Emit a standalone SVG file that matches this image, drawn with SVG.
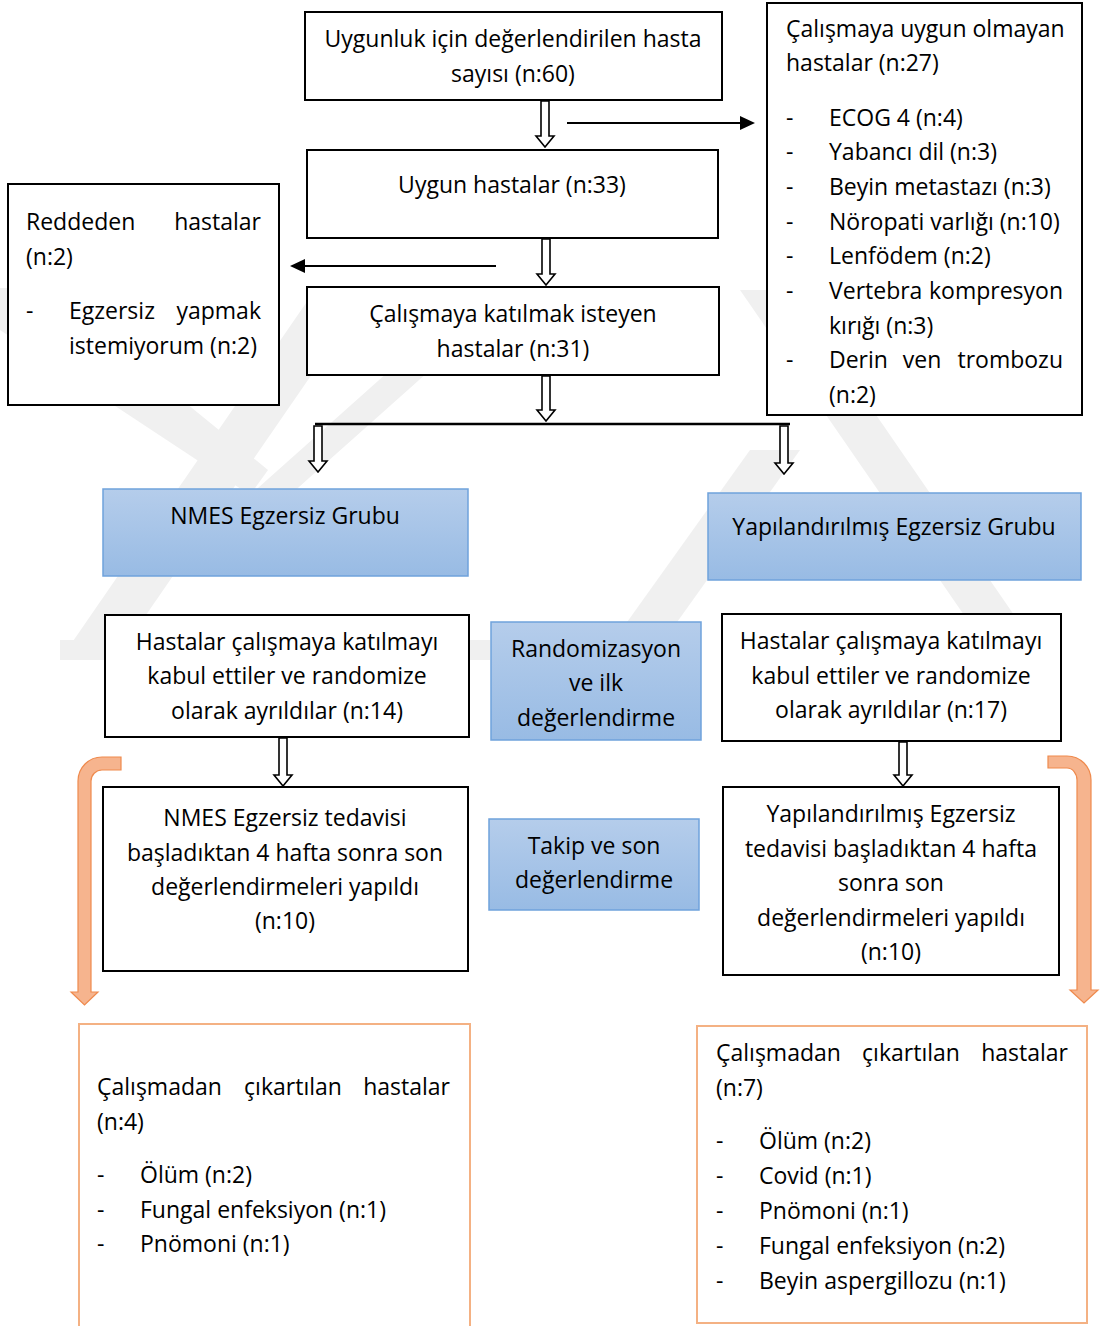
<svg xmlns="http://www.w3.org/2000/svg" width="1100" height="1326" viewBox="0 0 1100 1326">
<defs>
<linearGradient id="bg" x1="0" y1="0" x2="0" y2="1">
<stop offset="0" stop-color="#b5cdeb"/>
<stop offset="1" stop-color="#98bbe4"/>
</linearGradient>
<style>
.box{fill:#fff;stroke:#000;stroke-width:2}
.blue{fill:url(#bg);stroke:#6fa2dc;stroke-width:1.5}
.obox{fill:none;stroke:#f4b183;stroke-width:2}
.oarr{fill:#f6b48e;stroke:#ef8a4d;stroke-width:1.2}
.harr{fill:#fff;stroke:#000;stroke-width:1.6}
.ln{stroke:#000;stroke-width:2.5;fill:none}
.wm{fill:#f0f0f0}
text{font-family:"Open Sans","Noto Sans",sans-serif;font-size:23px;fill:#000}
.c{text-anchor:middle}
.e{text-anchor:end}
</style>
</defs>
<rect width="1100" height="1326" fill="#fff"/>
<g id="watermark">
<polygon class="wm" points="60,660 115,660 370,290 315,290"/>
<polygon class="wm" points="0,288 45,288 268,470 250,495 0,330"/>
<polygon class="wm" points="250,495 290,495 520,290 480,290"/>
<polygon class="wm" points="60,640 490,640 490,660 60,660"/>
<polygon class="wm" points="740,290 790,290 1045,660 995,660"/>
<polygon class="wm" points="600,660 650,660 800,450 750,450"/>
</g>
<g id="connectors">
<path class="harr" d="M541,101 L541,136 L536,136 L545,147 L554,136 L549,136 L549,101 Z"/>
<path class="harr" d="M542,239 L542,274 L537,274 L546,285 L555,274 L550,274 L550,239 Z"/>
<path class="harr" d="M542,376 L542,410 L537,410 L546,421 L555,410 L550,410 L550,376 Z"/>
<line class="ln" x1="315" y1="424" x2="790" y2="424"/>
<path class="harr" d="M314,426 L314,461 L309,461 L318,472 L327,461 L322,461 L322,426 Z"/>
<path class="harr" d="M780,426 L780,463 L775,463 L784,474 L793,463 L788,463 L788,426 Z"/>
<path class="harr" d="M279,738 L279,775 L274,775 L283,786 L292,775 L287,775 L287,738 Z"/>
<path class="harr" d="M899,742 L899,775 L894,775 L903,786 L912,775 L907,775 L907,742 Z"/>
<line x1="567" y1="123" x2="742" y2="123" stroke="#000" stroke-width="2"/>
<polygon points="740,116 755,123 740,130" fill="#000"/>
<line x1="496" y1="266" x2="302" y2="266" stroke="#000" stroke-width="2"/>
<polygon points="305,259 290,266 305,273" fill="#000"/>
<path class="oarr" d="M121,757 L102,757 A24,24 0 0 0 78,781 L78,992 L71,992 L84.5,1005 L98,992 L91,992 L91,781 A11,11 0 0 1 102,770 L121,770 Z"/>
<path class="oarr" d="M1048,756 L1067,756 A24,24 0 0 1 1091,780 L1091,990 L1098,990 L1084,1003 L1070,990 L1077,990 L1077,780 A10,12 0 0 0 1067,768 L1048,768 Z"/>
</g>
<g id="n-degerlendirilen">
<rect class="box" x="305" y="12" width="417" height="88"/>
<text class="c" x="513" y="47">Uygunluk için değerlendirilen hasta</text>
<text class="c" x="513" y="82">sayısı (n:60)</text>
</g>
<g id="n-uygun-olmayan">
<rect class="box" x="767" y="3" width="315" height="412"/>
<text x="786" y="37">Çalışmaya uygun olmayan</text>
<text x="786" y="71">hastalar (n:27)</text>
<text x="786" y="126">-</text><text x="829" y="126">ECOG 4 (n:4)</text>
<text x="786" y="160">-</text><text x="829" y="160">Yabancı dil (n:3)</text>
<text x="786" y="195">-</text><text x="829" y="195">Beyin metastazı (n:3)</text>
<text x="786" y="230">-</text><text x="829" y="230">Nöropati varlığı (n:10)</text>
<text x="786" y="264">-</text><text x="829" y="264">Lenfödem (n:2)</text>
<text x="786" y="299">-</text><text x="829" y="299">Vertebra</text><text class="e" x="1063" y="299">kompresyon</text>
<text x="829" y="334">kırığı (n:3)</text>
<text x="786" y="368">-</text><text x="829" y="368">Derin</text><text class="c" x="922" y="368">ven</text><text class="e" x="1063" y="368">trombozu</text>
<text x="829" y="403">(n:2)</text>
</g>
<g id="n-uygun">
<rect class="box" x="307" y="150" width="411" height="88"/>
<text class="c" x="512" y="193">Uygun hastalar (n:33)</text>
</g>
<g id="n-reddeden">
<rect class="box" x="8" y="184" width="271" height="221"/>
<text x="26" y="230">Reddeden</text><text class="e" x="261" y="230">hastalar</text>
<text x="26" y="265">(n:2)</text>
<text x="26" y="319">-</text><text x="69" y="319">Egzersiz</text><text class="e" x="261" y="319">yapmak</text>
<text x="69" y="354">istemiyorum (n:2)</text>
</g>
<g id="n-katilmak">
<rect class="box" x="307" y="287" width="412" height="88"/>
<text class="c" x="513" y="322">Çalışmaya katılmak isteyen</text>
<text class="c" x="513" y="357">hastalar (n:31)</text>
</g>
<g id="n-nmes-grup">
<rect class="blue" x="103" y="489" width="365" height="87"/>
<text class="c" x="285" y="524">NMES Egzersiz Grubu</text>
</g>
<g id="n-yap-grup">
<rect class="blue" x="708" y="493" width="373" height="87"/>
<text class="c" x="894" y="535">Yapılandırılmış Egzersiz Grubu</text>
</g>
<g id="n-kabul-sol">
<rect class="box" x="105" y="615" width="364" height="122"/>
<text class="c" x="287" y="650">Hastalar çalışmaya katılmayı</text>
<text class="c" x="287" y="684">kabul ettiler ve randomize</text>
<text class="c" x="287" y="719">olarak ayrıldılar (n:14)</text>
</g>
<g id="n-randomizasyon">
<rect class="blue" x="491" y="622" width="210" height="118"/>
<text class="c" x="596" y="657">Randomizasyon</text>
<text class="c" x="596" y="691">ve ilk</text>
<text class="c" x="596" y="726">değerlendirme</text>
</g>
<g id="n-kabul-sag">
<rect class="box" x="722" y="614" width="339" height="127"/>
<text class="c" x="891" y="649">Hastalar çalışmaya katılmayı</text>
<text class="c" x="891" y="684">kabul ettiler ve randomize</text>
<text class="c" x="891" y="718">olarak ayrıldılar (n:17)</text>
</g>
<g id="n-nmes-tedavi">
<rect class="box" x="103" y="787" width="365" height="184"/>
<text class="c" x="285" y="826">NMES Egzersiz tedavisi</text>
<text class="c" x="285" y="861">başladıktan 4 hafta sonra son</text>
<text class="c" x="285" y="895">değerlendirmeleri yapıldı</text>
<text class="c" x="285" y="929">(n:10)</text>
</g>
<g id="n-takip">
<rect class="blue" x="489" y="819" width="210" height="91"/>
<text class="c" x="594" y="854">Takip ve son</text>
<text class="c" x="594" y="888">değerlendirme</text>
</g>
<g id="n-yap-tedavi">
<rect class="box" x="723" y="787" width="336" height="188"/>
<text class="c" x="891" y="822">Yapılandırılmış Egzersiz</text>
<text class="c" x="891" y="857">tedavisi başladıktan 4 hafta</text>
<text class="c" x="891" y="891">sonra son</text>
<text class="c" x="891" y="926">değerlendirmeleri yapıldı</text>
<text class="c" x="891" y="960">(n:10)</text>
</g>
<g id="n-cikartilan-sol">
<path class="obox" d="M79,1330 L79,1024 L470,1024 L470,1330"/>
<text x="97" y="1095">Çalışmadan</text><text class="c" x="293" y="1095">çıkartılan</text><text class="e" x="450" y="1095">hastalar</text>
<text x="97" y="1130">(n:4)</text>
<text x="97" y="1183">-</text><text x="140" y="1183">Ölüm (n:2)</text>
<text x="97" y="1218">-</text><text x="140" y="1218">Fungal enfeksiyon (n:1)</text>
<text x="97" y="1252">-</text><text x="140" y="1252">Pnömoni (n:1)</text>
</g>
<g id="n-cikartilan-sag">
<rect class="obox" x="697" y="1026" width="390" height="297"/>
<text x="716" y="1061">Çalışmadan</text><text class="c" x="911" y="1061">çıkartılan</text><text class="e" x="1068" y="1061">hastalar</text>
<text x="716" y="1096">(n:7)</text>
<text x="716" y="1149">-</text><text x="759" y="1149">Ölüm (n:2)</text>
<text x="716" y="1184">-</text><text x="759" y="1184">Covid (n:1)</text>
<text x="716" y="1219">-</text><text x="759" y="1219">Pnömoni (n:1)</text>
<text x="716" y="1254">-</text><text x="759" y="1254">Fungal enfeksiyon (n:2)</text>
<text x="716" y="1289">-</text><text x="759" y="1289">Beyin aspergillozu (n:1)</text>
</g>
</svg>
